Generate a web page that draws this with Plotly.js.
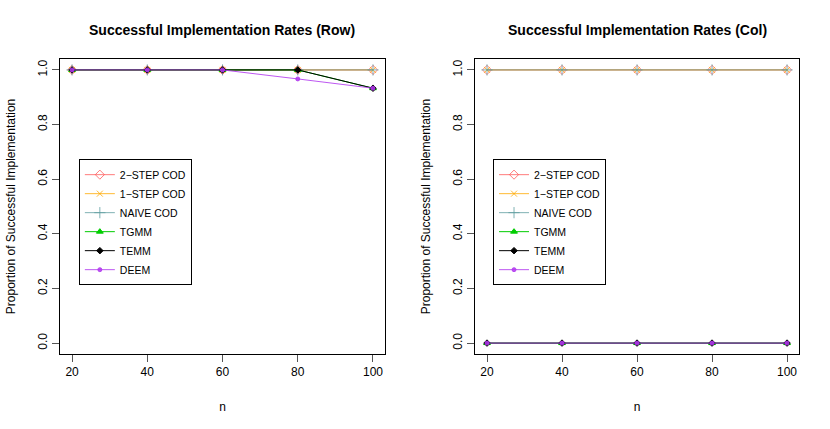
<!DOCTYPE html>
<html>
<head>
<meta charset="utf-8">
<script src="https://cdn.plot.ly/plotly-3.0.1.min.js"></script>
<style>html,body{margin:0;padding:0;background:#fff;}#chart{width:830px;height:429px;}</style>
</head>
<body>
<div id="chart"></div>
<script>
const n = [20, 40, 60, 80, 100];
const seriesNames = ["2\u2212STEP COD", "1\u2212STEP COD", "NAIVE COD", "TGMM", "TEMM", "DEEM"];
// Row panel
const rowTwoStep = [1, 1, 1, 1, 1];
const rowOneStep = [1, 1, 1, 1, 1];
const rowNaive   = [1, 1, 1, 1, 1];
const rowTGMM    = [1, 1, 1, 1, 0.933];
const rowTEMM    = [1, 1, 1, 1, 0.933];
const rowDEEM    = [1, 1, 1, 0.967, 0.933];
// Col panel
const colTwoStep = [1, 1, 1, 1, 1];
const colOneStep = [1, 1, 1, 1, 1];
const colNaive   = [1, 1, 1, 1, 1];
const colTGMM    = [0, 0, 0, 0, 0];
const colTEMM    = [0, 0, 0, 0, 0];
const colDEEM    = [0, 0, 0, 0, 0];

const styles = [
  {color: "rgba(255,80,80,0.75)", symbol: "diamond-open", size: 7},
  {color: "rgba(255,170,0,0.8)", symbol: "x-thin-open", size: 6},
  {color: "rgba(95,158,160,0.8)", symbol: "cross-thin-open", size: 8},
  {color: "rgba(0,205,0,1)", symbol: "triangle-up", size: 6},
  {color: "rgba(0,0,0,1)", symbol: "diamond", size: 5},
  {color: "rgba(178,58,238,0.85)", symbol: "circle", size: 4}
];

const rowData = [rowTwoStep, rowOneStep, rowNaive, rowTGMM, rowTEMM, rowDEEM];
const colData = [colTwoStep, colOneStep, colNaive, colTGMM, colTEMM, colDEEM];

const traces = [];
function addPanel(data, xa, ya, leg) {
  data.forEach((vals, i) => {
    const s = styles[i];
    traces.push({
      x: n, y: vals, xaxis: xa, yaxis: ya, legend: leg,
      type: "scatter", mode: "lines+markers", name: seriesNames[i],
      line: {color: s.color, width: 1},
      marker: {symbol: s.symbol, size: s.size, color: s.color, line: {color: s.color, width: 1}}
    });
  });
}
addPanel(rowData, "x", "y", "legend");
addPanel(colData, "x2", "y2", "legend2");

const font = {family: "Liberation Sans, Arial, sans-serif", size: 12, color: "#000"};
function xax(domain) {
  return {
    domain: domain, range: [16.8, 103.2], tickvals: n, ticks: "outside", ticklen: 7,
    tickcolor: "#555", showgrid: false, zeroline: false, showline: true, mirror: true,
    linecolor: "#000", linewidth: 1, tickfont: font,
    title: {text: "n", font: font, standoff: 24}
  };
}
function yax(domain, anchor) {
  return {
    domain: domain, anchor: anchor, range: [-0.04, 1.04], tickvals: [0, 0.2, 0.4, 0.6, 0.8, 1.0],
    ticktext: ["0.0", "0.2", "0.4", "0.6", "0.8", "1.0"], tickangle: -90,
    ticks: "outside", ticklen: 7, tickcolor: "#555", showgrid: false, zeroline: false,
    showline: true, mirror: true, linecolor: "#000", linewidth: 1, tickfont: font,
    title: {text: "Proportion of Successful Implementation", font: font, standoff: 17}
  };
}
const legStyle = {
  bordercolor: "#000", borderwidth: 1, bgcolor: "rgba(255,255,255,0)",
  font: {family: font.family, size: 10.5, color: "#000"}, xanchor: "left", yanchor: "top",
  tracegroupgap: 0, itemwidth: 30
};
const layout = {
  width: 830, height: 429, margin: {l: 0, r: 0, t: 0, b: 0},
  paper_bgcolor: "#fff", plot_bgcolor: "#fff", font: font,
  xaxis: Object.assign(xax([0.0723, 0.4639]), {anchor: "y"}),
  yaxis: yax([0.1748, 0.8625], "x"),
  xaxis2: Object.assign(xax([0.5723, 0.9627]), {anchor: "y2"}),
  yaxis2: yax([0.1748, 0.8625], "x2"),
  legend: Object.assign({x: 0.095, y: 0.629}, legStyle),
  legend2: Object.assign({x: 0.594, y: 0.629}, legStyle),
  annotations: [
    {text: "<b>Successful Implementation Rates (Row)</b>", xref: "paper", yref: "paper",
     x: 0.268, y: 1 - 30/429, xanchor: "center", yanchor: "middle", showarrow: false,
     font: {family: font.family, size: 14, color: "#000"}},
    {text: "<b>Successful Implementation Rates (Col)</b>", xref: "paper", yref: "paper",
     x: 0.7675, y: 1 - 30/429, xanchor: "center", yanchor: "middle", showarrow: false,
     font: {family: font.family, size: 14, color: "#000"}}
  ],
  showlegend: true
};
Plotly.newPlot("chart", traces, layout, {displayModeBar: false, staticPlot: true});
</script>
</body>
</html>
